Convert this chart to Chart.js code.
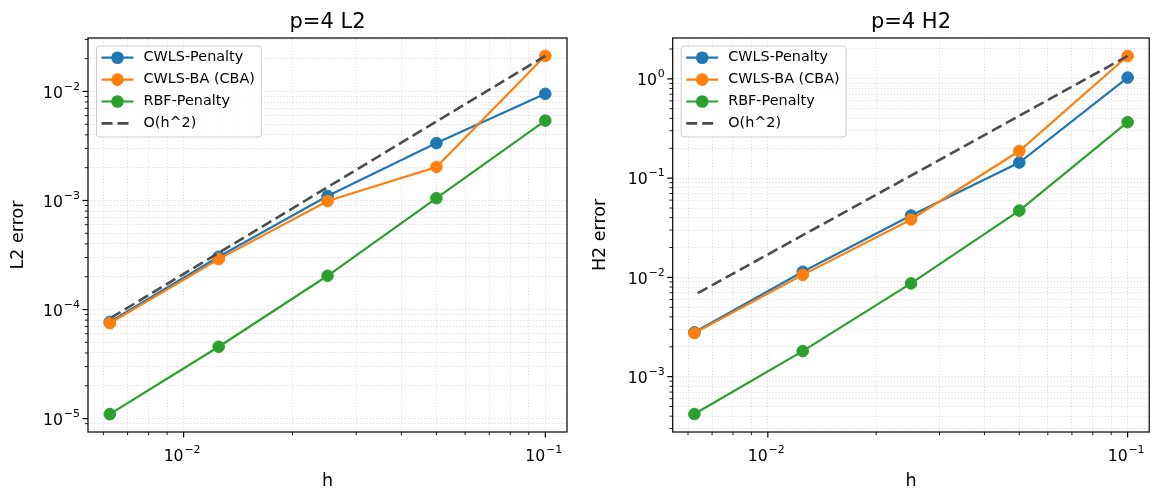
<!DOCTYPE html>
<html>
<head>
<meta charset="utf-8">
<script src="https://cdn.jsdelivr.net/npm/chart.js@4/dist/chart.umd.min.js"></script>
<style>
  body { margin: 0; background: #fff; }
  #wrap { position: relative; width: 1156px; height: 493px; }
  #wrap canvas { position: absolute; top: 0; }
</style>
</head>
<body>
<div id="wrap">
  <canvas id="l2" width="580" height="493" style="left:0"></canvas>
  <canvas id="h2" width="576" height="493" style="left:580px"></canvas>
</div>
<script>
const FONT = "'DejaVu Sans', 'Liberation Sans', sans-serif";

const hValues = [0.1, 0.05, 0.025, 0.0125, 0.00625];
const seriesNames = ["CWLS-Penalty", "CWLS-BA (CBA)", "RBF-Penalty", "O(h^2)"];
const seriesColors = ["#1f77b4", "#ff7f0e", "#2ca02c", "#4d4d4d"];

const l2Penalty = [0.0095, 0.00336, 0.0011, 0.000305, 0.000077];
const l2Cba = [0.0212, 0.00203, 0.00099, 0.00029, 0.000075];
const l2Rbf = [0.0054, 0.00105, 0.000204, 0.0000456, 0.000011];
const l2Ref = [0.0212, 0.0053, 0.001325, 0.000331, 0.0000828];

const h2Penalty = [1.03, 0.1435, 0.042, 0.0114, 0.0028];
const h2Cba = [1.70, 0.1875, 0.0383, 0.0106, 0.00275];
const h2Rbf = [0.366, 0.0471, 0.0087, 0.00181, 0.00042];
const h2Ref = [1.70, 0.425, 0.106, 0.0266, 0.00664];

const hRange = [0.00544, 0.1148];
const l2Range = [7.54e-6, 0.0309];
const h2Range = [2.77e-4, 2.58];

Chart.defaults.font.family = FONT;
Chart.defaults.color = "#000";

function isDecade(v) {
  const e = Math.log10(v);
  return Math.abs(e - Math.round(e)) < 1e-9;
}

function isWholeStep(v) {
  const s = v / Math.pow(10, Math.floor(Math.log10(v) + 1e-9));
  return Math.abs(s - Math.round(s)) < 1e-6;
}

// "10" with a raised exponent, like matplotlib's mathtext tick labels
function drawPower(ctx, v, x, baseline, align) {
  const e = Math.round(Math.log10(v));
  const exp = (e < 0 ? "\u2212" : "") + Math.abs(e);
  ctx.font = `15.7px ${FONT}`;
  const wb = ctx.measureText("10").width;
  ctx.font = `11px ${FONT}`;
  const we = ctx.measureText(exp).width;
  const total = wb + 0.8 + we;
  const left = align === "right" ? x - total : x - total / 2;
  ctx.textAlign = "left";
  ctx.textBaseline = "alphabetic";
  ctx.font = `15.7px ${FONT}`;
  ctx.fillText("10", left, baseline);
  ctx.font = `11px ${FONT}`;
  ctx.fillText(exp, left + wb + 0.8, baseline - 8);
}

const axesFrame = {
  id: "axesFrame",
  afterDraw(chart) {
    const { ctx, chartArea: a, scales } = chart;
    ctx.save();
    ctx.strokeStyle = "#000";
    ctx.fillStyle = "#000";
    scales.x.ticks.forEach((t) => {
      const major = isDecade(t.value);
      const px = scales.x.getPixelForValue(t.value);
      ctx.lineWidth = major ? 1.2 : 0.9;
      ctx.beginPath();
      ctx.moveTo(px, a.bottom);
      ctx.lineTo(px, a.bottom + (major ? 5.5 : 3.2));
      ctx.stroke();
      if (major) drawPower(ctx, t.value, px - 1.5, a.bottom + 29, "center");
    });
    scales.y.ticks.forEach((t) => {
      const major = isDecade(t.value);
      const py = scales.y.getPixelForValue(t.value);
      ctx.lineWidth = major ? 1.2 : 0.9;
      ctx.beginPath();
      ctx.moveTo(a.left, py);
      ctx.lineTo(a.left - (major ? 5.5 : 3.2), py);
      ctx.stroke();
      if (major) drawPower(ctx, t.value, a.left - 8, py + 6.3, "right");
    });
    ctx.lineWidth = 1.2;
    ctx.strokeRect(a.left, a.top, a.right - a.left, a.bottom - a.top);

    const title = chart.options.plugins.axesFrame.title;
    ctx.font = `21px ${FONT}`;
    ctx.textAlign = "center";
    ctx.textBaseline = "alphabetic";
    ctx.fillText(title, (a.left + a.right) / 2, 27.5);
    ctx.restore();
  },
};

const innerLegend = {
  id: "innerLegend",
  afterDraw(chart) {
    const { ctx, chartArea: a } = chart;
    const sets = chart.data.datasets;
    ctx.save();
    ctx.font = `14.4px ${FONT}`;
    const textW = Math.max(...sets.map((d) => ctx.measureText(d.label).width));
    const x0 = a.left + 8.5;
    const y0 = a.top + 8;
    const w = 47 + textW + 6.5;
    const h = 91;
    ctx.beginPath();
    ctx.roundRect(x0, y0, w, h, 3);
    ctx.fillStyle = "rgba(255,255,255,0.8)";
    ctx.fill();
    ctx.strokeStyle = "#cccccc";
    ctx.lineWidth = 1;
    ctx.stroke();
    sets.forEach((d, i) => {
      const cy = y0 + 11.7 + i * 21.9;
      ctx.strokeStyle = d.borderColor;
      ctx.lineWidth = d.borderWidth;
      ctx.setLineDash(d.borderDash || []);
      ctx.beginPath();
      ctx.moveTo(x0 + 5, cy);
      ctx.lineTo(x0 + 37, cy);
      ctx.stroke();
      ctx.setLineDash([]);
      if (d.pointRadius > 0) {
        ctx.beginPath();
        ctx.arc(x0 + 21, cy, d.pointRadius + 0.5, 0, Math.PI * 2);
        ctx.fillStyle = d.borderColor;
        ctx.fill();
      }
      ctx.fillStyle = "#000";
      ctx.textAlign = "left";
      ctx.textBaseline = "middle";
      ctx.fillText(d.label, x0 + 47, cy);
    });
    ctx.restore();
  },
};

function toPoints(values) {
  return hValues.map((h, i) => ({ x: h, y: values[i] }));
}

function markerSeries(label, values, color, order) {
  return {
    label,
    data: toPoints(values),
    borderColor: color,
    backgroundColor: color,
    pointBackgroundColor: color,
    pointBorderColor: color,
    borderWidth: 2.2,
    pointRadius: 5.8,
    pointBorderWidth: 1,
    tension: 0,
    order,
  };
}

function logAxis(range, extra) {
  return Object.assign({
    type: "logarithmic",
    min: range[0],
    max: range[1],
    afterBuildTicks: (scale) => {
      scale.ticks = scale.ticks.filter((t) => isWholeStep(t.value));
    },
    ticks: { display: false, autoSkip: false, maxRotation: 0 },
    grid: {
      drawTicks: false,
      color: "rgba(176,176,176,0.55)",
      lineWidth: 0.8,
    },
    border: { display: false, dash: [1.2, 2] },
  }, extra);
}

function createPanel(canvas, opts) {
  return new Chart(canvas, {
    type: "line",
    data: {
      datasets: [
        markerSeries(seriesNames[0], opts.penalty, seriesColors[0], 4),
        markerSeries(seriesNames[1], opts.cba, seriesColors[1], 3),
        markerSeries(seriesNames[2], opts.rbf, seriesColors[2], 2),
        {
          label: seriesNames[3],
          data: toPoints(opts.ref),
          borderColor: seriesColors[3],
          borderWidth: 2.6,
          borderDash: [11, 5],
          pointRadius: 0,
          tension: 0,
          order: 1,
        },
      ],
    },
    options: {
      responsive: false,
      devicePixelRatio: 1,
      animation: false,
      layout: { padding: { top: 38, right: opts.padRight, left: 0, bottom: 0 } },
      plugins: {
        legend: { display: false },
        tooltip: { enabled: false },
        axesFrame: { title: opts.title },
      },
      scales: {
        x: logAxis(hRange, {
          position: "bottom",
          afterFit: (scale) => { scale.height = 61; },
          title: { display: true, text: "h", font: { size: 17.5 }, padding: { top: 0, bottom: 1.5 } },
        }),
        y: logAxis(opts.range, {
          position: "left",
          afterFit: (scale) => { scale.width = opts.axisWidth; },
          title: { display: true, text: opts.yLabel, font: { size: 17.5 }, padding: { top: opts.yTitlePad, bottom: 0 } },
        }),
      },
    },
    plugins: [axesFrame, innerLegend],
  });
}

createPanel(document.getElementById("l2"), {
  title: "p=4 L2",
  yLabel: "L2 error",
  penalty: l2Penalty,
  cba: l2Cba,
  rbf: l2Rbf,
  ref: l2Ref,
  range: l2Range,
  axisWidth: 88,
  padRight: 13,
  yTitlePad: 7.5,
});

createPanel(document.getElementById("h2"), {
  title: "p=4 H2",
  yLabel: "H2 error",
  penalty: h2Penalty,
  cba: h2Cba,
  rbf: h2Rbf,
  ref: h2Ref,
  range: h2Range,
  axisWidth: 92.7,
  padRight: 6,
  yTitlePad: 9.5,
});
</script>
</body>
</html>
